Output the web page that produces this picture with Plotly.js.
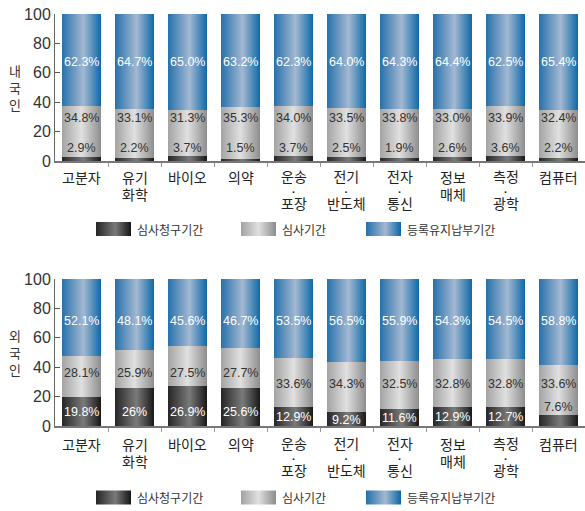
<!DOCTYPE html>
<html>
<head>
<meta charset="utf-8">
<script src="https://cdn.plot.ly/plotly-3.0.1.min.js"></script>
<style>
  html, body { margin: 0; padding: 0; background: #ffffff; }
  #chart { width: 585px; height: 511px; }
</style>
</head>
<body>
<div id="chart"></div>
<script>
// ---------------- data ----------------
const categories = ['고분자', '유기\n화학', '바이오', '의약', '운송\n·\n포장', '전기\n·\n반도체', '전자\n·\n통신', '정보\n매체', '측정\n·\n광학', '컴퓨터'];
const seriesNames = ['심사청구기간', '심사기간', '등록유지납부기간'];
const groupTitles = ['내국인', '외국인'];
const yTickValues = [0, 20, 40, 60, 80, 100];

const domesticRequest = [2.9, 2.2, 3.7, 1.5, 3.7, 2.5, 1.9, 2.6, 3.6, 2.2];
const domesticExam    = [34.8, 33.1, 31.3, 35.3, 34.0, 33.5, 33.8, 33.0, 33.9, 32.4];
const domesticFee     = [62.3, 64.7, 65.0, 63.2, 62.3, 64.0, 64.3, 64.4, 62.5, 65.4];

const foreignRequest  = [19.8, 26, 26.9, 25.6, 12.9, 9.2, 11.6, 12.9, 12.7, 7.6];
const foreignExam     = [28.1, 25.9, 27.5, 27.7, 33.6, 34.3, 32.5, 32.8, 32.8, 33.6];
const foreignFee      = [52.1, 48.1, 45.6, 46.7, 53.5, 56.5, 55.9, 54.3, 54.5, 58.8];
const foreignRequestLabels = ['19.8%', '26%', '26.9%', '25.6%', '12.9%', '9.2%', '11.6%', '12.9%', '12.7%', '7.6%'];

// ---------------- layout helpers ----------------
const W = 585, H = 511;
const M = { l: 55, r: 0, t: 14, b: 85 };
const PW = W - M.l - M.r, PH = H - M.t - M.b;
const px2x = p => (p - M.l) / PW;
const px2y = p => (H - M.b - p) / PH;
const topBase = 161, botBase = 426;

const C_DARK = '#3a3a3a', C_GRAY = '#c0c0c0', C_BLUE = '#4f86b8';
const colors = [C_DARK, C_GRAY, C_BLUE];
const xs = categories.map((_, i) => i);
const fmt = v => v.toFixed(1) + '%';

const groups = [
  { series: [domesticRequest, domesticExam, domesticFee], xa: 'x', ya: 'y' },
  { series: [foreignRequest, foreignExam, foreignFee], xa: 'x2', ya: 'y2' }
];

const traces = [];
groups.forEach(g => {
  g.series.forEach((vals, s) => {
    traces.push({
      type: 'bar', x: xs, y: vals, name: seriesNames[s],
      xaxis: g.xa, yaxis: g.ya, width: 0.75,
      marker: { color: colors[s], line: { width: 0 } },
      hoverinfo: 'skip', showlegend: false
    });
  });
});

const annotations = [];
const labFont = (c) => ({ family: 'Liberation Sans, Arial, sans-serif', size: 12.5, color: c });

// value labels - top (domestic)
xs.forEach(i => {
  annotations.push({ xref: 'x', yref: 'y', x: i, y: 67.3, text: fmt(domesticFee[i]), showarrow: false, font: labFont('#ffffff') });
  annotations.push({ xref: 'x', yref: 'y', x: i, y: 29.5, text: fmt(domesticExam[i]), showarrow: false, font: labFont('#333333') });
  annotations.push({ xref: 'x', yref: 'y', x: i, y: 8.8, text: fmt(domesticRequest[i]), showarrow: false, font: labFont('#333333') });
});
// value labels - bottom (foreign)
xs.forEach(i => {
  const d = foreignRequest[i];
  annotations.push({ xref: 'x2', yref: 'y2', x: i, y: 71.4, text: fmt(foreignFee[i]), showarrow: false, font: labFont('#ffffff') });
  annotations.push({ xref: 'x2', yref: 'y2', x: i, y: d > 15 ? 36 : 28.7, text: fmt(foreignExam[i]), showarrow: false, font: labFont('#333333') });
  let dy, dc;
  if (d > 15) { dy = 9.7; dc = '#ffffff'; }
  else if (d >= 9) { dy = d / 2 - 0.5; dc = '#ffffff'; }
  else { dy = d + 5.5; dc = '#333333'; }
  annotations.push({ xref: 'x2', yref: 'y2', x: i, y: dy, text: foreignRequestLabels[i], showarrow: false, font: labFont(dc) });
});

// category labels: one text per category; line spacing tuned via base font size
[[topBase, 'x', 0], [botBase, 'x2', 2]].forEach(([base, xr, extra]) => {
  categories.forEach((c, i) => {
    const lines = c.split('\n');
    const n = lines.length;
    const baseSize = n === 1 ? 14 : n === 2 ? 13.46 : 10.4;
    const center = n === 1 ? 15.5 : n === 2 ? 24.25 : 28.5;
    const text = lines.map(l => l === '·'
      ? '<span style="font-family:Liberation Sans;font-weight:bold;font-size:11px">·</span>'
      : '<span style="font-size:14px">' + l + '</span>').join('<br>');
    annotations.push({
      xref: xr, yref: 'paper', x: i, y: px2y(base + center + extra),
      text: text, showarrow: false, xanchor: 'center', yanchor: 'middle', align: 'center',
      font: { family: 'Noto Sans CJK KR, sans-serif', size: baseSize, color: '#222222' }
    });
  });
});

// group titles (vertical stacked)
[[87.5, 0], [352.5, 1]].forEach(([py, gi]) => {
  annotations.push({
    xref: 'paper', yref: 'paper', x: px2x(15), y: px2y(py),
    text: groupTitles[gi].split('').join('<br>'), showarrow: false,
    xanchor: 'center', yanchor: 'middle',
    font: { family: 'Noto Sans CJK KR, sans-serif', size: 13, color: '#333333' }
  });
});

// legends
const shapes = [];
const swatchX = [[96, 131], [241, 276], [366, 401]];
const textX = [135, 280, 405];
[229, 497.5].forEach(cy => {
  seriesNames.forEach((nm, s) => {
    shapes.push({
      type: 'rect', xref: 'paper', yref: 'paper',
      x0: px2x(swatchX[s][0]), x1: px2x(swatchX[s][1]),
      y0: px2y(cy - 7), y1: px2y(cy + 7),
      fillcolor: colors[s], line: { width: 0 }
    });
    annotations.push({
      xref: 'paper', yref: 'paper', x: px2x(textX[s]), y: px2y(cy),
      text: nm, showarrow: false, xanchor: 'left', yanchor: 'middle',
      font: { family: 'Noto Sans CJK KR, sans-serif', size: 12, color: '#333333' }
    });
  });
});

const xaxisBase = {
  range: [-0.5, 9.5], showgrid: false, zeroline: false,
  showline: true, linecolor: '#777777', linewidth: 1.5,
  ticks: 'outside', tickvals: [0.5, 1.5, 2.5, 3.5, 4.5, 5.5, 6.5, 7.5, 8.5],
  ticklen: 4, tickcolor: '#999999', tickwidth: 1,
  showticklabels: false, fixedrange: true, domain: [0, 1]
};
const yaxisBase = {
  range: [0, 100], showgrid: false, zeroline: false,
  showline: true, linecolor: '#666666', linewidth: 1,
  ticks: 'inside', tickvals: yTickValues, ticklen: 5, tickcolor: '#555555',
  tickfont: { family: 'Liberation Sans, Arial, sans-serif', size: 16, color: '#333333' },
  fixedrange: true
};

const layout = {
  width: W, height: H,
  margin: M,
  paper_bgcolor: '#ffffff', plot_bgcolor: '#ffffff',
  barmode: 'stack', bargap: 0.25,
  showlegend: false,
  xaxis: Object.assign({}, xaxisBase, { anchor: 'y' }),
  yaxis: Object.assign({}, yaxisBase, { domain: [px2y(topBase), 1], anchor: 'x' }),
  xaxis2: Object.assign({}, xaxisBase, { anchor: 'y2' }),
  yaxis2: Object.assign({}, yaxisBase, { domain: [0, px2y(279)], anchor: 'x2' }),
  annotations: annotations,
  shapes: shapes
};

function applyGradients(gd) {
  const svg = gd.querySelector('svg.main-svg');
  if (!svg) return;
  let defs = svg.querySelector('defs');
  if (!defs) { defs = document.createElementNS('http://www.w3.org/2000/svg', 'defs'); svg.insertBefore(defs, svg.firstChild); }
  const grads = {
    gDark: [[0, '#252525'], [0.55, '#7a7a7a'], [1, '#161616']],
    gGray: [[0, '#a2a2a2'], [0.5, '#e0e0e0'], [1, '#8c8c8c']],
    gBlue: [[0, '#2470aa'], [0.55, '#a3b8d2'], [1, '#0b68a6']]
  };
  Object.keys(grads).forEach(id => {
    if (svg.querySelector('#' + id)) return;
    const lg = document.createElementNS('http://www.w3.org/2000/svg', 'linearGradient');
    lg.setAttribute('id', id);
    lg.setAttribute('x1', '0'); lg.setAttribute('y1', '0');
    lg.setAttribute('x2', '1'); lg.setAttribute('y2', '0');
    grads[id].forEach(([o, c]) => {
      const st = document.createElementNS('http://www.w3.org/2000/svg', 'stop');
      st.setAttribute('offset', o);
      st.setAttribute('stop-color', c);
      lg.appendChild(st);
    });
    defs.appendChild(lg);
  });
  const map = {
    'rgb(58, 58, 58)': 'gDark',
    'rgb(192, 192, 192)': 'gGray',
    'rgb(79, 134, 184)': 'gBlue'
  };
  gd.querySelectorAll('.barlayer path, .shapelayer path').forEach(p => {
    const f = p.style.fill;
    if (map[f]) p.style.fill = 'url(#' + map[f] + ')';
  });
}

Plotly.newPlot('chart', traces, layout, { displayModeBar: false, staticPlot: true })
  .then(gd => applyGradients(gd));
</script>
</body>
</html>
